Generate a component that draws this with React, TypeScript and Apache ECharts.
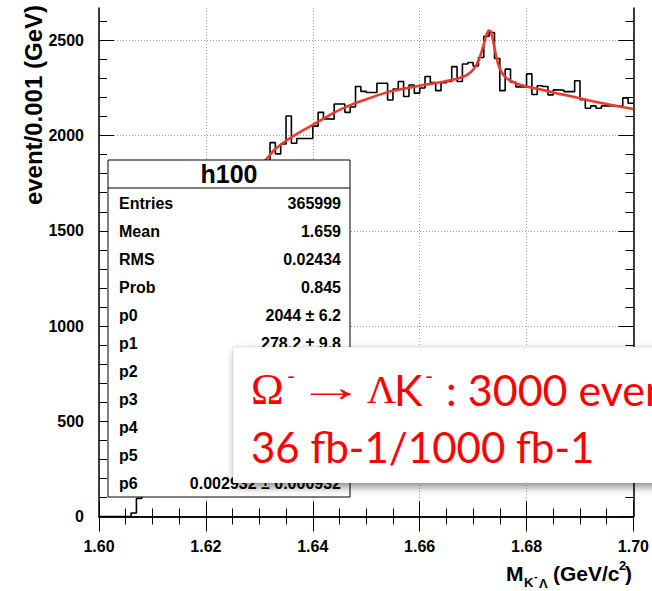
import React, { useEffect, useRef } from "react";
import * as echarts from "echarts";

// Histogram h100: 100 bins of 0.001 GeV/c^2 starting at 1.600
const binStart = 1.6;
const binWidth = 0.001;
const binCounts = [
  0, 0, 0, 0, 0, 0, 18, 95, 420, 760,
  960, 1100, 1210, 1300, 1380, 1440, 1500, 1550, 1590, 1630,
  1660, 1690, 1715, 1740, 1760, 1780, 1800, 1815, 1830, 1845,
  1850, 1858, 1963, 1904, 1956, 2103, 1960, 1985, 1985, 1985,
  2050, 2122, 2088, 2086, 2166, 2166, 2122, 2150, 2258, 2232,
  2226, 2226, 2275, 2275, 2187, 2244, 2284, 2205, 2266, 2223,
  2250, 2310, 2278, 2236, 2278, 2284, 2362, 2284, 2376, 2384,
  2366, 2410, 2522, 2541, 2405, 2236, 2349, 2280, 2256, 2256,
  2324, 2216, 2262, 2258, 2214, 2240, 2238, 2231, 2231, 2288,
  2189, 2144, 2156, 2144, 2156, 2156, 2156, 2154, 2198, 2170,
];

// Fitted function (background + peak), sampled along the mass axis
const fitMass = [
  1.63, 1.6313, 1.633, 1.6357, 1.638, 1.64, 1.6438, 1.647, 1.6507, 1.655,
  1.66, 1.6625, 1.665, 1.6675, 1.669, 1.67, 1.6707, 1.6713, 1.6719, 1.6724,
  1.6729, 1.6733, 1.6737, 1.6741, 1.6746, 1.6752, 1.676, 1.677, 1.6785, 1.68,
  1.6825, 1.6862, 1.69, 1.6924, 1.696, 1.7,
];
const fitValue = [
  1835, 1876, 1930, 1986, 2025, 2056, 2118, 2160, 2198, 2235,
  2262, 2274, 2287, 2303, 2322, 2345, 2375, 2415, 2470, 2520,
  2552, 2548, 2505, 2445, 2385, 2340, 2308, 2288, 2270, 2258,
  2243, 2219, 2196, 2180, 2160, 2140,
];

const yMajorTicks = [0, 500, 1000, 1500, 2000, 2500];
const yMinorTicks = [
  100, 200, 300, 400, 600, 700, 800, 900, 1100, 1200, 1300, 1400,
  1600, 1700, 1800, 1900, 2100, 2200, 2300, 2400, 2600,
];

const statsTitle = "h100";
const statsNames = ["Entries", "Mean", "RMS", "Prob", "p0", "p1", "p2", "p3", "p4", "p5", "p6"];
const statsValues = ["365999", "1.659", "0.02434", "0.845", "2044 ± 6.2", "278.2 ± 9.8", "", "", "", "", "0.002932 ± 0.000932"];

const SANS = "'Liberation Sans', Arial, Helvetica, sans-serif";
const SERIF = "'Liberation Serif', 'Times New Roman', serif";
const NOTE = "Lato, 'Open Sans', sans-serif";
const RED = "#ff0000";

function buildOption(): echarts.EChartsOption {
  const histData: number[][] = binCounts.map((c, i) => [
    Number((binStart + i * binWidth).toFixed(3)),
    c,
  ]);
  histData.push([Number((binStart + binCounts.length * binWidth).toFixed(3)), binCounts[binCounts.length - 1]]);
  const fitData = fitMass.map((m, i) => [m, fitValue[i]]);

  const frameLine = { show: true, lineStyle: { color: "#000", width: 1.5 } };
  const xCommon = {
    type: "value" as const,
    min: 1.6,
    max: 1.7,
    interval: 0.02,
    axisLine: frameLine,
    axisTick: { show: true, inside: true, length: 15, lineStyle: { color: "#000", width: 1 } },
    minorTick: { show: true, splitNumber: 4, length: 8, lineStyle: { color: "#000", width: 1 } },
  };
  const yCommon = { type: "value" as const, min: 0, max: 2670, interval: 500 };

  const statsElems: any[] = [
    {
      type: "rect",
      z: 50,
      shape: { x: 108, y: 160, width: 242, height: 337 },
      style: { fill: "#fff", stroke: "#000", lineWidth: 1 },
    },
    {
      type: "line",
      z: 51,
      shape: { x1: 108, y1: 188, x2: 350, y2: 188 },
      style: { stroke: "#000", lineWidth: 1 },
    },
    {
      type: "text",
      z: 51,
      x: 229,
      y: 174,
      style: {
        text: statsTitle,
        fontFamily: SANS,
        fontWeight: "bold",
        fontSize: 25,
        fill: "#000",
        textAlign: "center",
        textVerticalAlign: "middle",
      },
    },
  ];
  statsNames.forEach((name, i) => {
    const y = 203 + i * 28;
    statsElems.push({
      type: "text",
      z: 51,
      x: 119,
      y,
      style: { text: name, fontFamily: SANS, fontWeight: "bold", fontSize: 16, fill: "#000", textAlign: "left", textVerticalAlign: "middle" },
    });
    if (statsValues[i]) {
      statsElems.push({
        type: "text",
        z: 51,
        x: 341,
        y,
        style: { text: statsValues[i], fontFamily: SANS, fontWeight: "bold", fontSize: 16, fill: "#000", textAlign: "right", textVerticalAlign: "middle" },
      });
    }
  });

  const noteText = (text: string, x: number, y: number, font: string, size: number, extra: any = {}) => ({
    type: "text",
    z: 61,
    x,
    y,
    ...extra,
    style: { text, fontFamily: font, fontSize: size, fill: RED, textAlign: "left", textVerticalAlign: "middle" },
  });

  const noteElems: any[] = [
    {
      type: "rect",
      z: 60,
      shape: { x: 233, y: 347, width: 440, height: 136 },
      style: {
        fill: "#fff",
        stroke: "rgba(0,0,0,0.08)",
        lineWidth: 1,
        shadowBlur: 8,
        shadowOffsetX: 2,
        shadowOffsetY: 4,
        shadowColor: "rgba(0,0,0,0.45)",
      },
    },
    noteText("Ω", 251, 389, SERIF, 44),
    noteText("-", 287, 375, NOTE, 22),
    // long thin arrow: serif glyph stretched horizontally
    noteText("→", 297, 387, SERIF, 40, { scaleX: 1.7 }),
    noteText("Λ", 367, 389, SERIF, 40),
    noteText("K", 394, 389, NOTE, 43),
    noteText("-", 425, 375, NOTE, 22),
    noteText(": 3000 events", 446, 389, NOTE, 43),
    noteText("36 fb-1/1000 fb-1", 251, 447, NOTE, 42),
  ];

  const titleText = (text: string, x: number, y: number, size: number) => ({
    type: "text",
    z: 40,
    x,
    y,
    style: { text, fontFamily: SANS, fontWeight: "bold", fontSize: size, fill: "#000", textAlign: "left", textVerticalAlign: "middle" },
  });

  const axisTitles: any[] = [
    {
      type: "text",
      z: 40,
      x: 33,
      y: 5,
      rotation: Math.PI / 2,
      style: {
        text: "event/0.001 (GeV)",
        fontFamily: SANS,
        fontWeight: "bold",
        fontSize: 24,
        fill: "#000",
        textAlign: "right",
        textVerticalAlign: "middle",
      },
    },
    titleText("M", 506, 573, 21),
    titleText("K", 524, 582, 13),
    titleText("-", 534, 576, 11),
    titleText("Λ", 539, 583, 13),
    titleText("(GeV/c", 553, 573, 21),
    titleText("2", 619, 565, 13),
    titleText(")", 625, 573, 21),
  ];

  return {
    animation: false,
    backgroundColor: "#fff",
    grid: { left: 99, right: 18, top: 8, bottom: 74.5, containLabel: false },
    xAxis: [
      {
        ...xCommon,
        position: "bottom",
        axisLabel: {
          show: true,
          margin: 22,
          fontFamily: SANS,
          fontWeight: "bold",
          fontSize: 16,
          color: "#000",
          showMinLabel: true,
          showMaxLabel: true,
          formatter: (v: number) => v.toFixed(2),
        },
        splitLine: { show: true, lineStyle: { color: "#9a9a9a", width: 1, type: [1, 2] } },
      },
      {
        ...xCommon,
        position: "top",
        axisLabel: { show: false },
        splitLine: { show: false },
      },
    ],
    yAxis: [
      {
        ...yCommon,
        position: "left",
        axisLine: frameLine,
        axisTick: { show: true, inside: true, length: 15, customValues: yMajorTicks, lineStyle: { color: "#000", width: 1 } },
        axisLabel: {
          show: true,
          margin: 15,
          customValues: yMajorTicks,
          fontFamily: SANS,
          fontWeight: "bold",
          fontSize: 16,
          color: "#000",
          formatter: (v: number) => String(v),
        },
        splitLine: { show: true, lineStyle: { color: "#9a9a9a", width: 1, type: [1, 2] } },
      } as any,
      {
        ...yCommon,
        position: "left",
        axisLine: { show: false },
        axisTick: { show: true, inside: true, length: 8, customValues: yMinorTicks, lineStyle: { color: "#000", width: 1 } },
        axisLabel: { show: false },
        splitLine: { show: false },
      } as any,
      {
        ...yCommon,
        position: "right",
        axisLine: frameLine,
        axisTick: { show: true, inside: true, length: 15, customValues: yMajorTicks, lineStyle: { color: "#000", width: 1 } },
        axisLabel: { show: false },
        splitLine: { show: false },
      } as any,
      {
        ...yCommon,
        position: "right",
        axisLine: { show: false },
        axisTick: { show: true, inside: true, length: 8, customValues: yMinorTicks, lineStyle: { color: "#000", width: 1 } },
        axisLabel: { show: false },
        splitLine: { show: false },
      } as any,
    ],
    series: [
      {
        name: "h100",
        type: "line",
        step: "end",
        xAxisIndex: 0,
        yAxisIndex: 0,
        data: histData,
        symbol: "none",
        lineStyle: { color: "#000", width: 1.6 },
        z: 3,
      },
      {
        name: "fit",
        type: "line",
        xAxisIndex: 0,
        yAxisIndex: 0,
        data: fitData,
        symbol: "none",
        smooth: 0.2,
        lineStyle: { color: "#ee3a2c", width: 2.6 },
        z: 4,
      },
    ],
    graphic: [...axisTitles, ...statsElems, ...noteElems],
  };
}

export default function App() {
  const ref = useRef<HTMLDivElement>(null);

  useEffect(() => {
    document.body.style.margin = "0";
    if (!ref.current) return;
    const chart = echarts.init(ref.current, undefined, { renderer: "svg" });
    chart.setOption(buildOption());
    return () => chart.dispose();
  }, []);

  return <div ref={ref} style={{ width: 652, height: 591, overflow: "hidden", background: "#fff" }} />;
}
